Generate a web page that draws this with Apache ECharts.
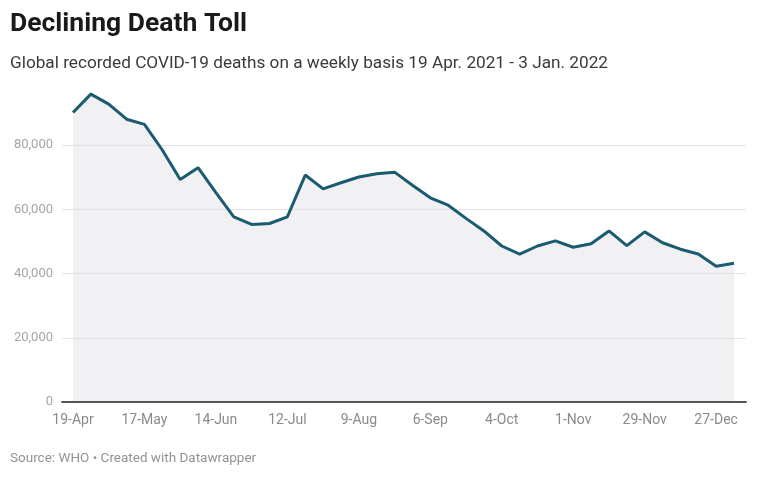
<!DOCTYPE html>
<html>
<head>
<meta charset="utf-8">
<script src="https://cdn.jsdelivr.net/npm/echarts@6/dist/echarts.min.js"></script>
<style>
  html, body { margin: 0; padding: 0; background: #fff; }
  #chart { width: 762px; height: 478px; }
</style>
</head>
<body>
<div id="chart"></div>
<script>
// weekly buckets, 19 Apr 2021 - 3 Jan 2022
let weeks = ['19-Apr', '26-Apr', '3-May', '10-May', '17-May', '24-May', '31-May',
    '7-Jun', '14-Jun', '21-Jun', '28-Jun', '5-Jul', '12-Jul', '19-Jul', '26-Jul',
    '2-Aug', '9-Aug', '16-Aug', '23-Aug', '30-Aug', '6-Sep', '13-Sep', '20-Sep', '27-Sep',
    '4-Oct', '11-Oct', '18-Oct', '25-Oct', '1-Nov', '8-Nov', '15-Nov', '22-Nov', '29-Nov',
    '6-Dec', '13-Dec', '20-Dec', '27-Dec', '3-Jan'];
let deaths = [90200, 95900, 92800, 88100, 86500, 78500, 69300, 73000, 65200, 57700,
    55300, 55600, 57700, 70700, 66400, 68300, 70100, 71100, 71600, 67500,
    63600, 61300, 57200, 53300, 48600, 46100, 48600, 50200, 48200, 49300,
    53300, 48700, 53000, 49600, 47600, 46100, 42300, 43200];
let yTicks = [0, 20000, 40000, 60000, 80000];

let myChart = echarts.init(document.getElementById('chart'));

let gridTop = 81;
let gridBottom = 76;
let font = 'Roboto, "Noto Sans", sans-serif';

let option = {
    animation: false,
    title: [
        {
            text: 'Declining Death Toll',
            left: 5, top: 6,
            textStyle: {fontFamily: font, fontWeight: 'bold', fontSize: 26.5, color: '#1a1a1a'}
        },
        {
            text: 'Global recorded COVID-19 deaths on a weekly basis 19 Apr. 2021 - 3 Jan. 2022',
            left: 5, top: 50,
            textStyle: {fontFamily: font, fontWeight: 'normal', fontSize: 17.2, color: '#3a3a3a'}
        },
        {
            text: 'Source: WHO \u2022 Created with Datawrapper',
            left: 5, top: 447,
            textStyle: {fontFamily: font, fontWeight: 'normal', fontSize: 13.5, color: '#939393'}
        }
    ],
    grid: [
        // wide grid: gridlines, y labels and baseline
        {left: 62, right: 16, top: gridTop, bottom: gridBottom},
        // inner grid: the data itself
        {left: 73, right: 28, top: gridTop, bottom: gridBottom}
    ],
    xAxis: [
        {
            gridIndex: 0, type: 'value', min: 0, max: 1, z: 14,
            axisLine: {show: true, lineStyle: {color: '#555', width: 2}},
            axisTick: {show: false}, axisLabel: {show: false}, splitLine: {show: false}
        },
        {
            gridIndex: 1, type: 'category', data: weeks, boundaryGap: false,
            axisLine: {show: false}, axisTick: {show: false},
            axisLabel: {interval: 3, margin: 11, color: '#8a8a8a', fontSize: 14, fontFamily: font}
        }
    ],
    yAxis: [
        {
            gridIndex: 0, type: 'value', min: 0, max: 100000, interval: 20000,
            axisLine: {show: false}, axisTick: {show: false},
            axisLabel: {
                margin: 9, color: '#a6a6a6', fontSize: 13, fontFamily: font,
                formatter: function (v) {
                    if (yTicks.indexOf(v) < 0) return '';
                    return v.toLocaleString('en-US');
                }
            },
            splitLine: {lineStyle: {color: ['#e4e4e4', '#e4e4e4', '#e4e4e4', '#e4e4e4', '#e4e4e4', 'rgba(0,0,0,0)']}}
        },
        {
            gridIndex: 1, type: 'value', min: 0, max: 100000, show: false
        }
    ],
    series: [{
        name: 'deaths',
        type: 'line',
        xAxisIndex: 1,
        yAxisIndex: 1,
        data: deaths,
        symbol: 'none',
        lineStyle: {color: '#1b5b70', width: 3},
        areaStyle: {color: 'rgb(225,225,230)', opacity: 0.45},
        z: 12
    }]
};
myChart.setOption(option);
</script>
</body>
</html>
